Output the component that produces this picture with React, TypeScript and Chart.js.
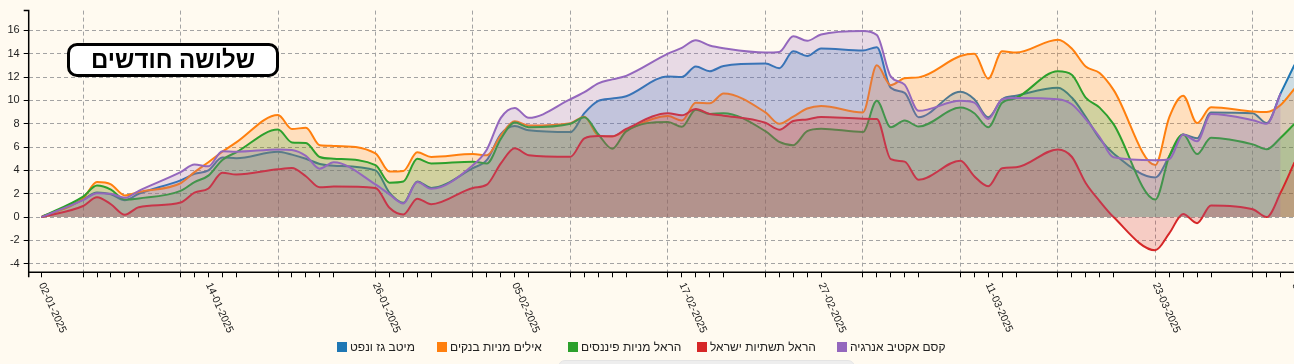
import React, { useEffect, useRef } from 'react';
import { Chart, registerables } from 'chart.js';

Chart.register(...registerables);

// ---- data ----
const dates = [
  '02-01-2025', '05-01-2025', '06-01-2025', '07-01-2025', '08-01-2025', '09-01-2025',
  '12-01-2025', '13-01-2025', '14-01-2025', '15-01-2025', '16-01-2025',
  '19-01-2025', '20-01-2025', '21-01-2025', '22-01-2025', '23-01-2025',
  '26-01-2025', '27-01-2025', '28-01-2025', '29-01-2025', '30-01-2025',
  '02-02-2025', '03-02-2025', '04-02-2025', '05-02-2025', '06-02-2025',
  '09-02-2025', '10-02-2025', '11-02-2025', '12-02-2025', '13-02-2025',
  '16-02-2025', '17-02-2025', '18-02-2025', '19-02-2025', '20-02-2025',
  '23-02-2025', '24-02-2025', '25-02-2025', '26-02-2025', '27-02-2025',
  '02-03-2025', '03-03-2025', '04-03-2025', '05-03-2025', '06-03-2025',
  '09-03-2025', '10-03-2025', '11-03-2025', '12-03-2025', '13-03-2025',
  '16-03-2025', '17-03-2025', '18-03-2025', '19-03-2025', '20-03-2025',
  '23-03-2025', '24-03-2025', '25-03-2025', '26-03-2025', '27-03-2025',
  '30-03-2025', '31-03-2025', '01-04-2025', '02-04-2025',
];

const seriesNames = [
  'מיטב גז ונפט',
  'אילים מניות בנקים',
  'הראל מניות פיננסים',
  'הראל תשתיות ישראל',
  'קסם אקטיב אנרגיה',
];
const seriesColors = ['#1f77b4', '#ff7f0e', '#2ca02c', '#d62728', '#9467bd'];

const meitavGasOil = [
  0, 1.5, 2.1, 1.95, 1.45, 2.0, 3.15, 3.7, 4.0, 5.1, 5.05, 5.6, 5.35, 5.0, 4.55, 4.4,
  4.0, 2.1, 1.22, 3.05, 2.5, 4.2, 4.9, 7.1, 7.8, 7.43, 7.28, 8.9, 9.95, 10.15, 10.35,
  12.05, 12.0, 12.9, 12.5, 12.95, 13.15, 12.76, 14.2, 13.8, 14.45, 14.28, 14.55, 11.08,
  10.65, 8.55, 10.74, 10.1, 8.55, 10.1, 10.4, 11.07, 10.24, 8.6, 6.72, 5.45, 3.4, 5.2,
  7.07, 6.75, 8.97, 8.9, 8.05, 10.6, 13.05,
];
const ayalimBanks = [
  0, 1.6, 3.0, 2.8, 1.85, 2.15, 2.9, 3.85, 4.7, 5.6, 6.4, 8.75, 7.55, 7.65, 6.15, 6.1,
  5.45, 3.9, 3.95, 5.55, 5.15, 5.4, 5.3, 7.0, 8.2, 7.85, 8.05, 8.6, 7.0, 6.9, 7.45,
  8.65, 8.27, 9.8, 9.75, 10.58, 8.97, 7.99, 8.6, 9.3, 9.52, 8.97, 13.0, 11.3, 11.9,
  11.97, 13.8, 14.0, 11.86, 14.2, 14.1, 15.2, 14.45, 12.9, 12.34, 10.9, 4.47, 8.55,
  10.4, 8.05, 9.4, 9.05, 9.0, 9.6, 11.0,
];
const harelFinance = [
  0, 1.75, 2.7, 2.35, 1.5, 1.6, 2.25, 3.0, 3.55, 4.9, 5.55, 7.5, 6.4, 6.35, 5.15, 5.0,
  4.45, 2.95, 3.05, 5.0, 4.6, 4.75, 4.6, 6.7, 8.1, 7.7, 8.0, 8.55, 7.1, 5.85, 7.35,
  8.15, 7.73, 9.2, 8.83, 8.9, 7.36, 6.44, 6.16, 7.36, 7.57, 7.29, 9.96, 7.7, 8.27,
  7.76, 9.38, 8.9, 7.7, 9.8, 10.2, 12.5, 12.2, 10.24, 9.38, 7.96, 1.5, 5.2, 7.07, 5.4,
  6.8, 6.23, 5.81, 6.8, 8.0,
];
const harelInfra = [
  0, 0.95, 1.7, 1.1, 0.2, 0.85, 1.25, 2.1, 2.45, 3.8, 3.65, 4.1, 4.2, 3.5, 2.55, 2.62,
  2.5, 0.8, 0.22, 1.58, 1.1, 2.5, 2.78, 4.6, 5.9, 5.3, 5.17, 6.75, 6.95, 6.92, 7.55,
  8.9, 8.72, 9.25, 8.83, 8.69, 8.08, 7.49, 8.23, 8.37, 8.57, 8.43, 8.4, 4.97, 4.75,
  3.2, 4.83, 3.5, 2.64, 4.19, 4.27, 5.8, 5.17, 2.92, 1.37, 0.0, -2.84, -1.4, 0.27,
  -0.52, 1.0, 0.67, 0.0, 2.1, 4.7,
];
const kesemEnergy = [
  0, 1.45, 2.05, 2.0, 1.65, 2.25, 3.85, 4.5, 4.35, 5.65, 5.6, 5.8, 5.75, 5.25, 4.15, 4.7,
  2.8, 1.95, 1.17, 3.0, 2.42, 4.45, 5.8, 8.5, 9.35, 8.5, 10.1, 10.7, 11.45, 11.8, 12.1,
  14.0, 14.5, 15.15, 14.7, 14.47, 14.1, 14.15, 15.5, 15.1, 15.65, 15.95, 15.6, 12.05,
  11.35, 9.1, 9.96, 9.8, 8.4, 10.1, 10.2, 10.1, 9.67, 8.4, 6.86, 5.12, 4.87, 4.95, 7.07,
  6.5, 8.83, 8.3, 7.99, 10.6,
];

const yTickValues = [-4, -2, 0, 2, 4, 6, 8, 10, 12, 14, 16];
const xLabelEvery = 8;
const chartTitle = 'שלושה חודשים';

// ---- helpers ----
const DAY = 86400000;
const toUtc = (s: string) => {
  const [d, m, y] = s.split('-').map(Number);
  return Date.UTC(y, m - 1, d);
};
const baseUtc = toUtc(dates[0]);
const xs = dates.map((s) => (toUtc(s) - baseUtc) / DAY);
const baseWeekday = new Date(baseUtc).getUTCDay();
const isSunday = (v: number) => ((Math.round(v) + baseWeekday) % 7 + 7) % 7 === 0;

const X_MIN = -0.905;
const X_MAX = 89.96;
const Y_MIN = -4.73;
const Y_MAX = 17.69;

const FONT = '"Liberation Sans", Arial, sans-serif';

const hexToRgba = (hex: string, a: number) => {
  const n = parseInt(hex.slice(1), 16);
  return `rgba(${(n >> 16) & 255},${(n >> 8) & 255},${n & 255},${a})`;
};

const allSeries = [meitavGasOil, ayalimBanks, harelFinance, harelInfra, kesemEnergy];

// legend item left edges (layout)
const LEGEND_LEFTS = [337, 437, 568, 697, 837];

const decorPlugin = {
  id: 'decor',
  afterDraw(chart: any) {
    const { ctx, chartArea: a, scales } = chart;
    const x = scales.x;
    ctx.save();
    ctx.strokeStyle = '#000';
    ctx.lineWidth = 1.5;
    ctx.setLineDash([]);
    ctx.beginPath();
    ctx.moveTo(a.left - 5, a.top);
    ctx.lineTo(a.left, a.top);
    ctx.lineTo(a.left, a.bottom);
    ctx.lineTo(a.right, a.bottom);
    ctx.moveTo(a.left, a.bottom);
    ctx.lineTo(a.left, a.bottom + 5);
    ctx.stroke();

    ctx.fillStyle = '#222';
    ctx.font = `10.5px ${FONT}`;
    ctx.textAlign = 'left';
    ctx.textBaseline = 'middle';
    dates.forEach((label, i) => {
      if (i % xLabelEvery !== 0) return;
      const px = x.getPixelForValue(xs[i]);
      ctx.save();
      ctx.translate(px, a.bottom + 11);
      ctx.rotate((66 * Math.PI) / 180);
      ctx.fillText(label, 0, 0);
      ctx.restore();
    });
    ctx.restore();
  },
};

export default function App() {
  const ref = useRef<HTMLCanvasElement | null>(null);

  useEffect(() => {
    if (!ref.current) return;
    const datasets = allSeries.map((vals, i) => ({
      label: seriesNames[i],
      data: vals.map((v, j) => ({ x: xs[j], y: v })),
      borderColor: seriesColors[i],
      backgroundColor: hexToRgba(seriesColors[i], 0.22),
      fill: 'origin',
      cubicInterpolationMode: 'monotone' as const,
      borderWidth: 2,
      pointRadius: 0,
      order: allSeries.length - i,
    }));

    const chart = new Chart(ref.current, {
      type: 'line',
      data: { datasets },
      options: {
        responsive: false,
        animation: false,
        devicePixelRatio: 1,
        layout: { padding: { top: 7, left: 0, right: 0, bottom: 0 } },
        plugins: {
          legend: { display: false },
          tooltip: { enabled: false },
        },
        elements: { point: { radius: 0 } },
        scales: {
          x: {
            type: 'linear',
            min: X_MIN,
            max: X_MAX,
            afterBuildTicks: (s: any) => {
              s.ticks = xs.filter((v) => v >= X_MIN && v <= X_MAX).map((v) => ({ value: v }));
            },
            afterFit: (s: any) => {
              s.height = 91.7;
            },
            ticks: { display: false },
            grid: {
              color: (c: any) =>
                c.tick && isSunday(c.tick.value) ? '#a3a3a3' : 'rgba(0,0,0,0)',
              lineWidth: 1,
              tickColor: '#000',
              tickLength: 5,
              tickWidth: 1,
            },
            border: { display: false, dash: [4, 3] },
          },
          y: {
            type: 'linear',
            min: Y_MIN,
            max: Y_MAX,
            afterBuildTicks: (s: any) => {
              s.ticks = yTickValues.map((v) => ({ value: v }));
            },
            afterFit: (s: any) => {
              s.width = 28.7;
            },
            ticks: { font: { size: 11, family: FONT }, color: '#222', padding: 4 },
            grid: {
              color: '#a3a3a3',
              lineWidth: 1,
              tickColor: '#000',
              tickLength: 5,
              tickWidth: 1,
            },
            border: { display: false, dash: [4, 3] },
          },
        },
      } as any,
      plugins: [decorPlugin],
    });
    return () => chart.destroy();
  }, []);

  return (
    <div
      style={{
        position: 'fixed',
        left: 0,
        top: 0,
        width: 1294,
        height: 364,
        background: '#fffaf0',
        overflow: 'hidden',
        fontFamily: FONT,
      }}
    >
      <canvas ref={ref} width={1294} height={364} style={{ display: 'block' }} />
      <div
        style={{
          position: 'absolute',
          left: 67,
          top: 43,
          width: 212,
          height: 34,
          boxSizing: 'border-box',
          border: '3px solid #000',
          borderRadius: 10,
          background: '#fff',
          display: 'flex',
          alignItems: 'center',
          justifyContent: 'center',
          font: `bold 24px ${FONT}`,
          color: '#000',
          direction: 'rtl',
        }}
      >
        {chartTitle}
      </div>
      {seriesNames.map((name, i) => (
        <div
          key={name}
          style={{
            position: 'absolute',
            left: LEGEND_LEFTS[i],
            top: 340,
            display: 'flex',
            alignItems: 'center',
            font: `12px ${FONT}`,
            color: '#222',
            whiteSpace: 'nowrap',
          }}
        >
          <span
            style={{
              display: 'inline-block',
              width: 10,
              height: 10,
              background: seriesColors[i],
              marginRight: 3,
            }}
          />
          <span style={{ lineHeight: '14px', direction: 'rtl' }}>{name}</span>
        </div>
      ))}
      <div
        style={{
          position: 'absolute',
          left: 558,
          top: 360,
          width: 295,
          height: 14,
          borderRadius: 7,
          background: '#eeeeee',
          border: '1px solid #e4e4e4',
        }}
      />
    </div>
  );
}
